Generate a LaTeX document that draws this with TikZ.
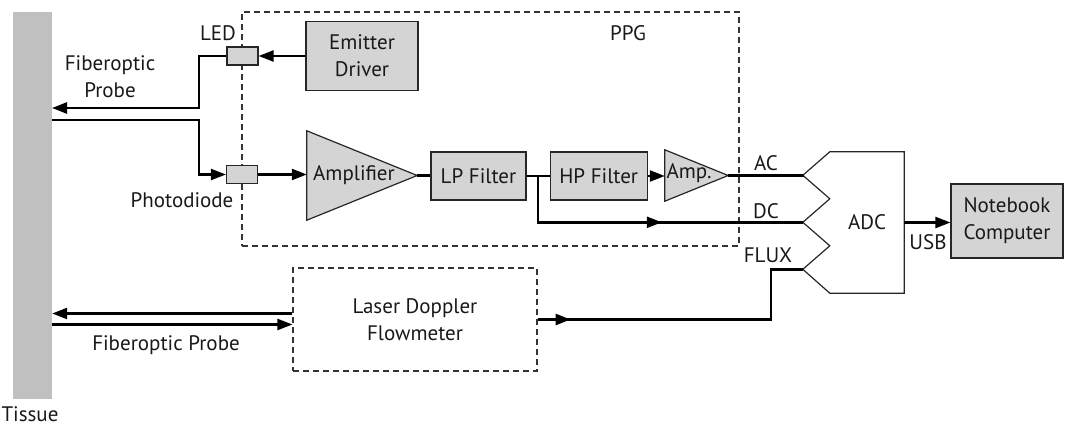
\documentclass[tikz,border=0pt]{standalone}
\usepackage{fontspec}
\setmainfont{PT Sans}
\usetikzlibrary{calc}
\usetikzlibrary{positioning}
\usetikzlibrary{arrows.meta}
\usetikzlibrary{decorations.markings}
\definecolor{boxgray}{RGB}{212,212,212}
\definecolor{tissuegray}{RGB}{192,192,192}
\tikzset{
    between/.style args={#1 and #2}{
    	at = ($(#1)!0.5!(#2)$)
    },
    midarrow/.style={
        postaction={decorate},
        decoration={markings, mark=at position #1 with {\arrow{>}}}
    }
}

\begin{document}
\begin{tikzpicture}[
        x=1pt, y=-1pt,
        >={Triangle[length=15pt,width=11pt]},
        every node/.style={font=\fontsize{21}{27}\selectfont, align=center, inner sep=0pt, text=black!90},
        block/.style={rectangle, draw=black!85, line width=1.2pt, fill=boxgray},
        port/.style={rectangle, draw=black!85, line width=1.2pt, fill=boxgray, minimum width=31pt, minimum height=18pt},
        group/.style={rectangle, draw=black!80, line width=1.2pt, dash pattern=on 6pt off 4pt},
        ampl/.style={rectangle, draw=none},
        wire/.style={line width=2.4pt, black},
    ]
    \useasboundingbox (0,0) rectangle (1065,425);

    % tissue and groups
    \node[rectangle, fill=tissuegray, minimum width=39pt, minimum height=387pt] (T) at (32.5,205.5) {};
    \node                (Tl)  at (30,414)     {Tissue};
    \node[group, minimum width=497pt, minimum height=234pt] (PPG) at (490.5,129) {};
    \node                (PPGl) at (628,33)    {PPG};
    \node[group, minimum width=244pt, minimum height=103pt] (LDF) at (415,319.5) {Laser Doppler\\Flowmeter};

    % PPG blocks
    \node[block, minimum width=112pt, minimum height=69pt] (ED) at (362,56) {Emitter\\Driver};
    \node[port]          (LED) at (242.5,56)   {};
    \node                (LEDl) at (218,33)    {LED};
    \node[port]          (PD)  at (242,174.5)  {};
    \node                (PDl) at (182,200)    {Photodiode};

    \node[ampl, minimum width=110pt, minimum height=89pt] (A1) at (362,175.5) {};
    \filldraw[draw=black!85, line width=1.2pt, fill=boxgray] (A1.north west) -- (A1.east) -- (A1.south west) -- cycle;
    \node                (A1l) at (354,175)    {Amplifier};

    \node[block, minimum width=95pt, minimum height=48pt] (LP) at (478.5,176) {LP Filter};
    \node[block, minimum width=97pt, minimum height=48pt] (HP) [right=23pt of LP] {HP Filter};

    \node[ampl, minimum width=63pt, minimum height=51pt] (A2) at (696.5,175.5) {};
    \filldraw[draw=black!85, line width=1.2pt, fill=boxgray] (A2.north west) -- (A2.east) -- (A2.south west) -- cycle;
    \node                (A2l) at (689,173)    {Amp.};

    % converter and computer
    \node[ampl, minimum width=74pt, minimum height=141pt] (ADC) at (867,222.5) {ADC};
    \draw[black!85, line width=1.2pt] (ADC.south west) -- (ADC.south east) -- (ADC.north east) -- (ADC.north west)
        -- ++(-27,23.5) coordinate (AC) -- ++(27,23.5) -- ++(-27,23.5) coordinate (DC)
        -- ++(27,23.5) -- ++(-27,23.5) coordinate (FX) -- cycle;
    \node                (ACl) at (766,163)    {AC};
    \node                (DCl) at (766,211)    {DC};
    \node                (FXl) at (768,255)    {FLUX};
    \node[block, minimum width=112pt, minimum height=74pt] (NB) at (1007,221) {Notebook\\Computer};
    \node                (USBl) at (928,242)   {USB};

    % probe ends on tissue
    \coordinate (Pout) at (52,108);
    \coordinate (Pin)  at (52,120);
    \coordinate (bend) at (199,0);
    \coordinate[between=LP.east and HP.west] (J);
    \coordinate (FXb)  at ([xshift=-32pt]FX);
    \coordinate (La)   at ([yshift=6pt]LDF.west);
    \coordinate (Lb)   at ([yshift=-5pt]LDF.west);

    \draw[wire, ->] (ED.west)  -- (ED.west -| LED.east);
    \draw[wire, ->] (LED.west) -| (bend |- Pout) -- (Pout);
    \draw[wire, ->] (Pin) -| (bend |- PD.west) -- (PD.west);
    \draw[wire, ->] (PD.east)  -- (PD.east -| A1.west);
    \draw[wire]     (A1.east)  -- (A1.east -| LP.west);
    \draw[wire]     (LP.east)  -- (HP.west);
    \draw[wire, ->] (HP.east)  -- (HP.east -| A2.west);
    \draw[wire]     (A2.east)  -- (A2.east -| AC) -- (AC);
    \draw[wire, midarrow=170pt] (J) |- (DC);
    \draw[wire, ->] (ADC.east) -- (ADC.east -| NB.west);

    \draw[wire, ->] (La) -- (La -| T.east);
    \draw[wire, ->] (Lb -| T.east) -- (Lb);
    \draw[wire, midarrow=33pt] (LDF.east) -| (FXb) -- (FX);
    \node                (LFPl) at (166,345)   {Fiberoptic Probe};
    \node                (FPl)  at (110,77)    {Fiberoptic\\Probe};
\end{tikzpicture}
\end{document}
